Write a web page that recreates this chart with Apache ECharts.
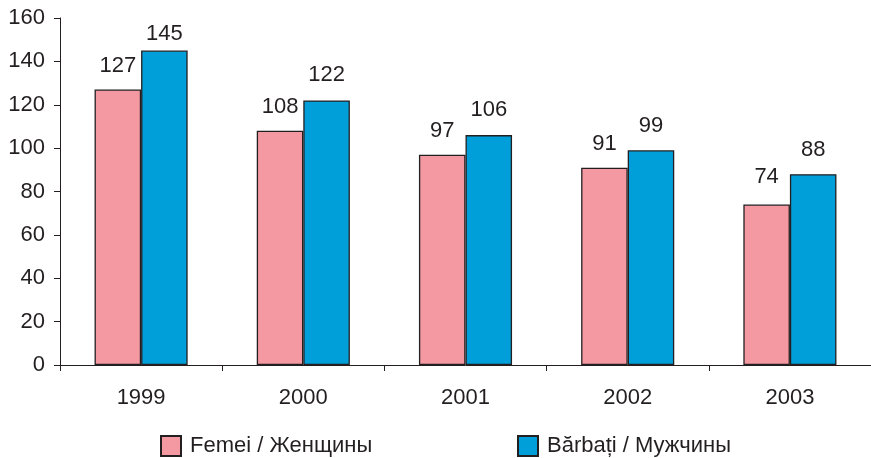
<!DOCTYPE html>
<html>
<head>
<meta charset="utf-8">
<script src="https://cdn.jsdelivr.net/npm/echarts@6/dist/echarts.min.js"></script>
<style>
html,body{margin:0;padding:0;background:#fff;}
#c{width:871px;height:458px;}
</style>
</head>
<body>
<div id="c"></div>
<script>
const categories = ['1999', '2000', '2001', '2002', '2003'];
const femei = [127, 108, 97, 91, 74];
const barbati = [145, 122, 106, 99, 88];
const seriesNames = ['Femei / Женщины', 'Bărbați / Мужчины'];
const yTicks = [0, 20, 40, 60, 80, 100, 120, 140, 160];

// label gaps above bars (style only, as placed in the original)
const gapFemei = [13, 13, 13, 13, 17];
const gapBarbati = [6, 14, 14, 13, 13];

const FONT = '"Liberation Sans", Arial, sans-serif';
const TXT = '#231F20';
const chart = echarts.init(document.getElementById('c'), null, {renderer: 'canvas'});

const labelStyle = {
  show: true, position: 'top', distance: 13,
  color: TXT, fontFamily: FONT, fontSize: 22
};
const legendText = {color: TXT, fontFamily: FONT, fontSize: 22, padding: [0,0,0,4]};
const withGaps = (vals, gaps) => vals.map((v, i) => ({value: v, label: {distance: gaps[i]}}));

chart.setOption({
  animation: false,
  backgroundColor: '#ffffff',
  grid: {left: 60, top: 18, bottom: 93, right: -8, containLabel: false},
  legend: [
    {
      data: [seriesNames[0]], left: 160, top: 435, padding: 0,
      itemWidth: 20, itemHeight: 20,
      textStyle: legendText, icon: 'rect'
    },
    {
      data: [seriesNames[1]], left: 517, top: 435, padding: 0,
      itemWidth: 20, itemHeight: 20,
      textStyle: legendText, icon: 'rect'
    }
  ],
  xAxis: {
    type: 'category', data: categories, boundaryGap: true,
    axisLine: {lineStyle: {color: TXT, width: 1}},
    axisTick: {show: true, length: 6, lineStyle: {color: TXT}},
    axisLabel: {color: TXT, fontFamily: FONT, fontSize: 22, margin: 22}
  },
  yAxis: {
    type: 'value', min: yTicks[0], max: yTicks[yTicks.length - 1], interval: 20,
    splitLine: {show: false},
    axisLine: {show: true, lineStyle: {color: TXT, width: 1}},
    axisTick: {show: true, length: 6, lineStyle: {color: TXT}},
    axisLabel: {color: TXT, fontFamily: FONT, fontSize: 22, margin: 15}
  },
  series: [
    {
      name: seriesNames[0], type: 'bar', data: withGaps(femei, gapFemei),
      barWidth: '28.7%', barGap: '0%',
      itemStyle: {color: '#F498A2', borderColor: TXT, borderWidth: 1.3},
      label: labelStyle
    },
    {
      name: seriesNames[1], type: 'bar', data: withGaps(barbati, gapBarbati),
      barWidth: '28.7%', barGap: '0%',
      itemStyle: {color: '#009FDA', borderColor: TXT, borderWidth: 1.3},
      label: labelStyle
    }
  ]
});
</script>
</body>
</html>
